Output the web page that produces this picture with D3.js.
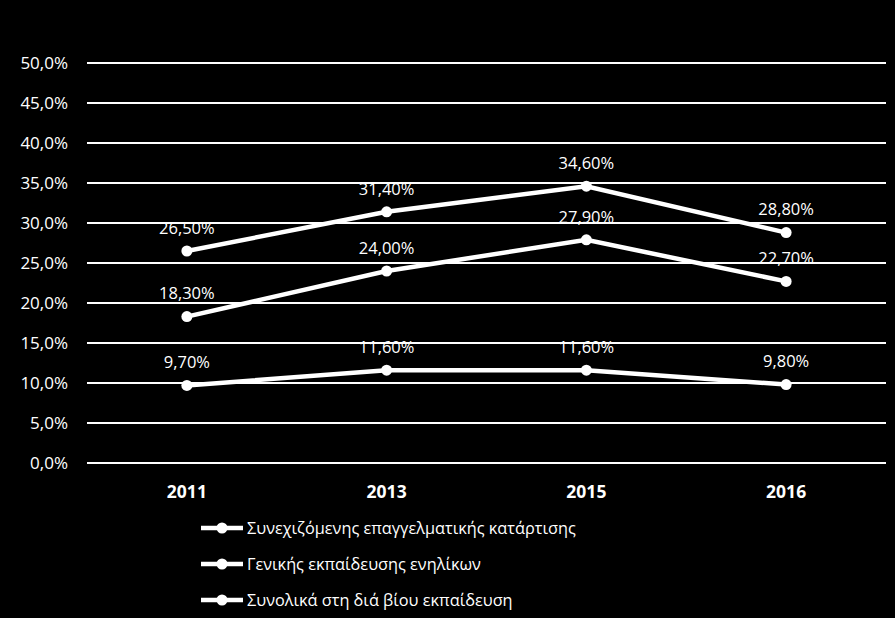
<!DOCTYPE html>
<html>
<head>
<meta charset="utf-8">
<script src="https://cdn.jsdelivr.net/npm/d3@7"></script>
<style>
  body { margin: 0; background: #000; }
  text { fill: #fff; font-family: "Open Sans", "Noto Sans", sans-serif; }
</style>
</head>
<body>
<div id="chart"></div>
<script>
const years = ["2011", "2013", "2015", "2016"];
const yTicks = [0, 5, 10, 15, 20, 25, 30, 35, 40, 45, 50];
const seriesNames = [
  "Συνεχιζόμενης επαγγελματικής κατάρτισης",
  "Γενικής εκπαίδευσης ενηλίκων",
  "Συνολικά στη διά βίου εκπαίδευση"
];
const continuing = [26.5, 31.4, 34.6, 28.8];
const general = [18.3, 24.0, 27.9, 22.7];
const total = [9.7, 11.6, 11.6, 9.8];

const seriesValues = [continuing, general, total];

const W = 895, H = 618;

const svg = d3.select("#chart").append("svg")
  .attr("width", W)
  .attr("height", H)

svg.append("rect")
  .attr("width", W)
  .attr("height", H)
  .attr("fill", "#000")

const x = d3.scaleBand()
  .domain(years)
  .range([87, 886])

const y = d3.scaleLinear()
  .domain([0, 50])
  .range([463, 63])

const fmt = v => v.toFixed(1).replace(".", ",") + "%";
const fmtLabel = v => v.toFixed(2).replace(".", ",") + "%";

// gridlines
svg.append("g")
  .selectAll("line")
  .data(yTicks)
  .join("line")
  .attr("x1", 87)
  .attr("x2", 886)
  .attr("y1", d => y(d))
  .attr("y2", d => y(d))
  .attr("stroke", "#fff")
  .attr("stroke-width", 2)

// y labels
svg.append("g")
  .selectAll("text")
  .data(yTicks)
  .join("text")
  .attr("x", 68)
  .attr("y", d => y(d))
  .attr("dy", "0.35em")
  .attr("text-anchor", "end")
  .attr("font-size", 17)
  .text(fmt)

// x labels
svg.append("g")
  .selectAll("text")
  .data(years)
  .join("text")
  .attr("x", d => x(d) + x.bandwidth() / 2)
  .attr("y", 498)
  .attr("text-anchor", "middle")
  .attr("font-size", 17.5)
  .attr("font-weight", "bold")
  .text(d => d)

const line = d3.line()
  .x((d, i) => x(years[i]) + x.bandwidth() / 2)
  .y(d => y(d))

seriesValues.forEach(vals => {
  const g = svg.append("g")
  g.append("path")
    .attr("d", line(vals))
    .attr("fill", "none")
    .attr("stroke", "#fff")
    .attr("stroke-width", 4.5)
  g.selectAll("circle")
    .data(vals)
    .join("circle")
    .attr("cx", (d, i) => x(years[i]) + x.bandwidth() / 2)
    .attr("cy", d => y(d))
    .attr("r", 5.5)
    .attr("fill", "#fff")
  g.selectAll("text")
    .data(vals)
    .join("text")
    .attr("x", (d, i) => x(years[i]) + x.bandwidth() / 2)
    .attr("y", d => y(d) - 23)
    .attr("dy", "0.35em")
    .attr("text-anchor", "middle")
    .attr("font-size", 16.5)
    .text(fmtLabel)
})

// legend
const legend = svg.append("g")
  .selectAll("g")
  .data(seriesNames)
  .join("g")
  .attr("transform", (d, i) => `translate(201, ${528 + i * 36})`)

legend.append("line")
  .attr("x1", 0)
  .attr("x2", 42)
  .attr("stroke", "#fff")
  .attr("stroke-width", 4.5)
legend.append("circle")
  .attr("cx", 21)
  .attr("r", 5.5)
  .attr("fill", "#fff")
legend.append("text")
  .attr("x", 46)
  .attr("dy", "0.35em")
  .attr("font-size", 16.3)
  .text(d => d)
</script>
</body>
</html>
